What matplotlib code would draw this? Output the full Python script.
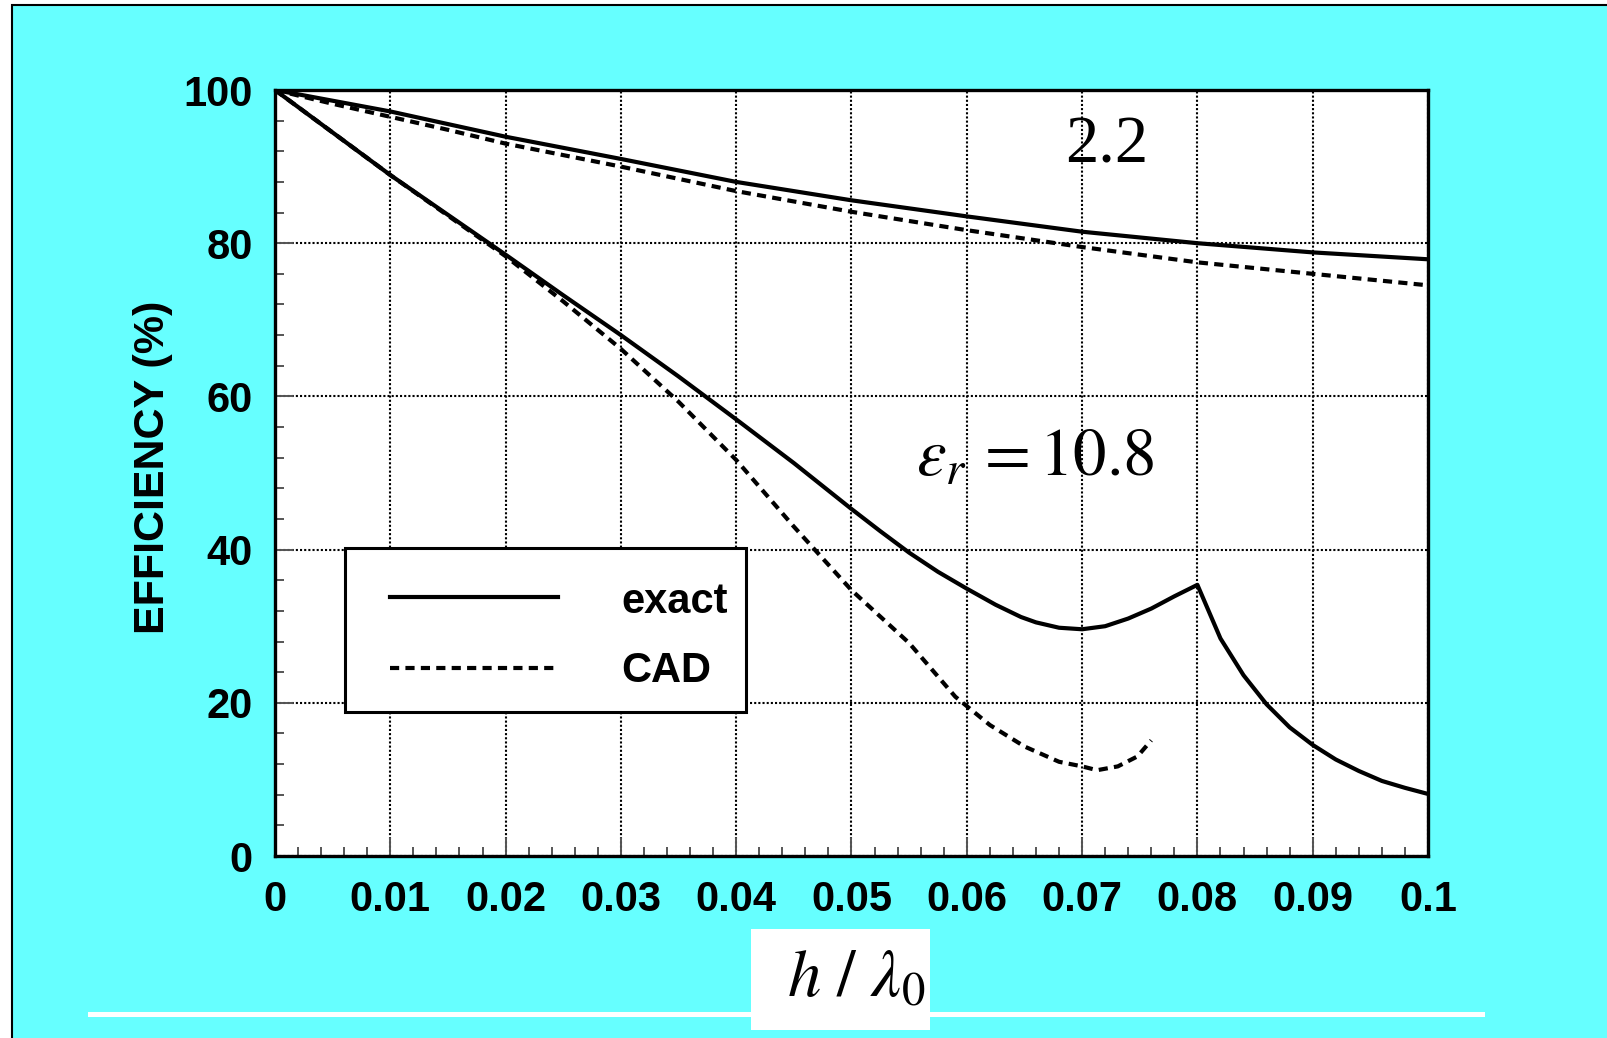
import matplotlib
matplotlib.use("Agg")
import matplotlib.pyplot as plt
from matplotlib.lines import Line2D
from matplotlib.patches import Rectangle
from matplotlib.ticker import MultipleLocator

plt.rcParams['font.family'] = ['Liberation Sans', 'DejaVu Sans']
plt.rcParams['mathtext.fontset'] = 'stix'

# efficiency vs normalised substrate thickness, eps_r = 2.2
h_exact_22 = [0, 0.005, 0.01, 0.02, 0.03, 0.04, 0.05, 0.06, 0.07, 0.08, 0.09, 0.1]
eff_exact_22 = [100, 98.6, 97.2, 93.9, 91.0, 88.0, 85.6, 83.5, 81.5, 80.0, 78.8, 77.9]

h_cad_22 = [0, 0.005, 0.01, 0.015, 0.02, 0.03, 0.04, 0.05, 0.06, 0.07, 0.08, 0.09, 0.1]
eff_cad_22 = [100, 98.2, 96.5, 94.8, 93.0, 90.0, 86.8, 84.1, 81.7, 79.5, 77.5, 76.0, 74.5]

# eps_r = 10.8
h_exact_108 = [0, 0.01, 0.02, 0.025, 0.03, 0.035, 0.04, 0.045, 0.05, 0.0525, 0.055, 0.0575,
               0.06, 0.0625, 0.0647, 0.066, 0.068, 0.07, 0.072, 0.074, 0.076, 0.078, 0.08,
               0.082, 0.084, 0.086, 0.088, 0.09, 0.092, 0.094, 0.096, 0.098, 0.1]
eff_exact_108 = [100, 88.9, 78.5, 73.2, 68.0, 62.6, 57.0, 51.3, 45.3, 42.4, 39.6, 37.1,
                 34.9, 32.8, 31.2, 30.5, 29.8, 29.6, 30.0, 31.0, 32.3, 33.9, 35.4,
                 28.4, 23.6, 19.8, 16.8, 14.5, 12.6, 11.1, 9.8, 8.9, 8.1]

h_cad_108 = [0, 0.01, 0.02, 0.025, 0.03, 0.035, 0.04, 0.045, 0.05, 0.055, 0.059,
             0.062, 0.065, 0.068, 0.07, 0.0713, 0.0731, 0.0748, 0.076]
eff_cad_108 = [100, 88.9, 78.3, 72.4, 66.2, 59.3, 51.7, 43.0, 34.7, 27.8, 20.8,
               17.1, 14.3, 12.3, 11.7, 11.2, 11.7, 13.0, 15.1]

x_ticks = [0, 0.01, 0.02, 0.03, 0.04, 0.05, 0.06, 0.07, 0.08, 0.09, 0.1]
x_tick_labels = ['0', '0.01', '0.02', '0.03', '0.04', '0.05', '0.06', '0.07', '0.08', '0.09', '0.1']
y_ticks = [0, 20, 40, 60, 80, 100]
y_tick_labels = ['0', '20', '40', '60', '80', '100']

W, H = 1608, 1038
fig = plt.figure(figsize=(W / 100, H / 100), dpi=100, facecolor='white')

# slide background: cyan with a black border on the left / top
fig.add_artist(Rectangle((12 / W, -0.1), 1.2, 1.1 - 5 / H, transform=fig.transFigure,
                         facecolor='#66FFFF', edgecolor='black', lw=1.5, zorder=-2))
# white rule under the chart and white box behind the axis title
fig.add_artist(Line2D([90 / W, 1482 / W], [1 - 1014 / H] * 2, transform=fig.transFigure,
                      color='white', lw=3.6, zorder=1))
fig.add_artist(Rectangle((751 / W, 1 - 1030 / H), 179 / W, 101 / H, transform=fig.transFigure,
                         facecolor='white', edgecolor='none', zorder=2))
fig.text(787 / W, 1 - 997 / H, r'$h\ /\ \lambda_0$', fontsize=48, ha='left', va='baseline', zorder=3)

ax = fig.add_axes([275 / W, 1 - 856 / H, 1153 / W, 766 / H])
ax.set_facecolor('white')

solid_lw = 3
dash_lw = 3
dash = (2.2, 1.5)
ax.plot(h_exact_22, eff_exact_22, color='black', lw=solid_lw)
ax.plot(h_cad_22, eff_cad_22, color='black', lw=dash_lw, dashes=dash)
ax.plot(h_exact_108, eff_exact_108, color='black', lw=solid_lw)
ax.plot(h_cad_108, eff_cad_108, color='black', lw=dash_lw, dashes=dash)

ax.set_xlim(0, 0.1)
ax.set_ylim(0, 100)
ax.set_xticks(x_ticks)
ax.set_xticklabels(x_tick_labels)
ax.set_yticks(y_ticks)
ax.set_yticklabels(y_tick_labels)
ax.xaxis.set_minor_locator(MultipleLocator(0.002))
ax.yaxis.set_minor_locator(MultipleLocator(4))
ax.tick_params(which='both', direction='in', color='#555555', labelcolor='black', width=1.4,
               labelsize=30)
ax.tick_params(which='major', length=13)
ax.tick_params(which='minor', length=6.5)
ax.tick_params(axis='x', which='major', pad=17)
ax.tick_params(axis='y', which='major', pad=16)
for lbl in ax.get_xticklabels() + ax.get_yticklabels():
    lbl.set_fontweight('bold')

ax.grid(True, which='major', color='black', linestyle=(0, (1, 1)), lw=1.5)
for s in ax.spines.values():
    s.set_linewidth(2.4)

ax.set_ylabel('EFFICIENCY (%)', fontsize=31, fontweight='bold', va='center')
ax.yaxis.set_label_coords(-0.106, 0.508)

ax.text(0.0721, 90.6, '2.2', family='Liberation Serif', fontsize=48, ha='center', va='baseline')
ax.text(0.0556, 49.7, r'$ε_r\, = 10.8$', fontsize=48, ha='left', va='baseline')

# legend box, drawn in axes fraction
tA = ax.transAxes
ax.add_patch(Rectangle((0.0607, 0.1876), 0.3478, 0.2141, transform=tA, facecolor='white',
                       edgecolor='black', lw=2.2, zorder=5, clip_on=False))
ax.add_line(Line2D([0.0997, 0.2452], [0.3385] * 2, transform=tA, color='black',
                   lw=solid_lw, zorder=6, clip_on=False))
ax.add_line(Line2D([0.0997, 0.2452], [0.2450] * 2, transform=tA, color='black',
                   lw=dash_lw, dashes=dash, zorder=6, clip_on=False))
ax.text(0.3007, 0.3172, 'exact', transform=tA, fontsize=30, fontweight='bold',
        ha='left', va='baseline', zorder=7)
ax.text(0.3007, 0.2272, 'CAD', transform=tA, fontsize=30, fontweight='bold',
        ha='left', va='baseline', zorder=7)

fig.savefig('out.png', dpi=100, facecolor=fig.get_facecolor())
